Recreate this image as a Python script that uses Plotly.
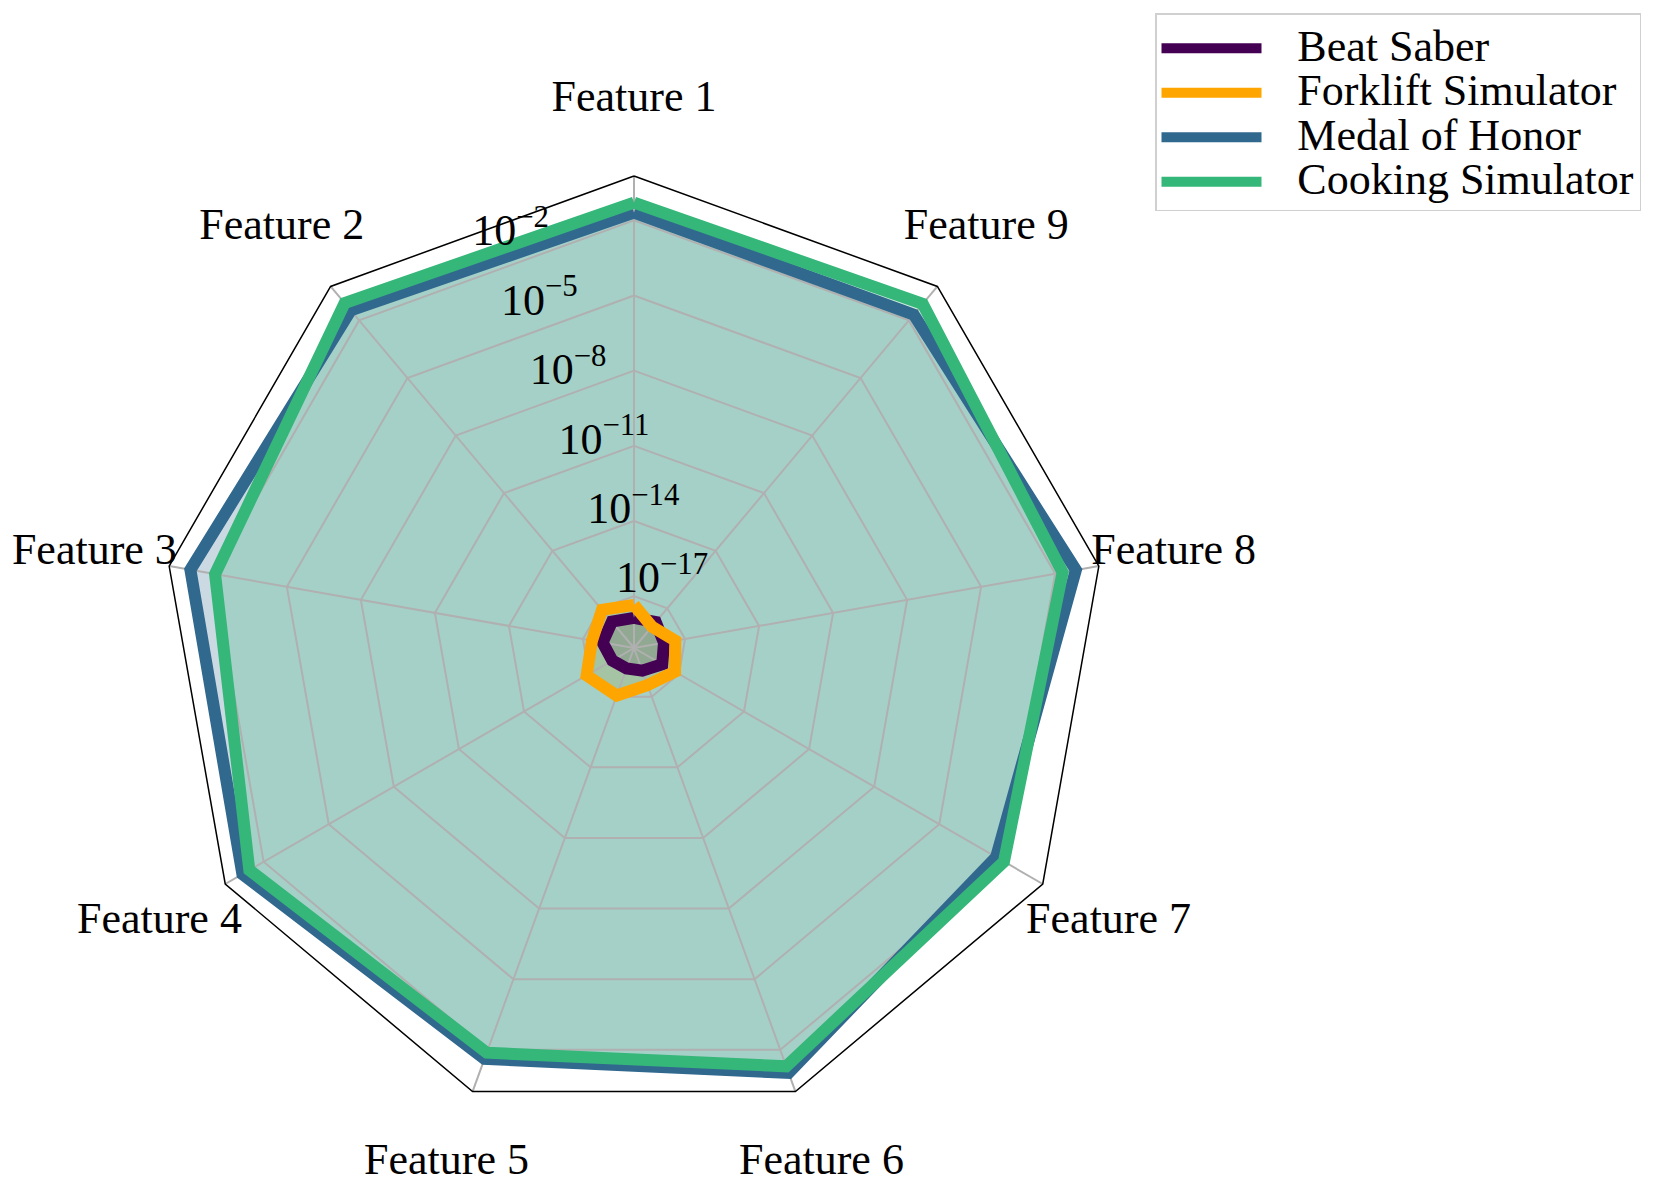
import plotly.graph_objects as go

features = [f"Feature {i}" for i in range(1, 10)]
series_names = ["Beat Saber", "Forklift Simulator", "Medal of Honor", "Cooking Simulator"]
beat_saber = [1.35e-18, 2.0e-18, 1.6e-18, 8.5e-19, 6.3e-19, 7.8e-19, 1.7e-18, 1.4e-18, 1.9e-18]
forklift = [4.5e-18, 8.3e-18, 4.3e-18, 1.3e-17, 8.9e-18, 3.2e-18, 6.6e-18, 4.0e-18, 1.1e-18]
medal_of_honor = [0.0204, 0.0331, 0.0813, 0.0955, 0.024, 0.0955, 0.00417, 0.0692, 0.020]
cooking = [0.0513, 0.0794, 0.00813, 0.0457, 0.0132, 0.0501, 0.00955, 0.020, 0.0724]
series_values = [beat_saber, forklift, medal_of_honor, cooking]
colors = ["#440154", "#FFA500", "#31688E", "#35B779"]
fill_colors = ["rgba(68,1,84,0.25)", "rgba(255,165,0,0.25)", "rgba(49,104,142,0.25)", "rgba(53,183,121,0.25)"]
tick_vals = [1e-17, 1e-14, 1e-11, 1e-8, 1e-5, 1e-2]
tick_text = ["10<sup>\u221217</sup>", "10<sup>\u221214</sup>", "10<sup>\u221211</sup>",
             "10<sup>\u22128</sup>", "10<sup>\u22125</sup>", "10<sup>\u22122</sup>"]

FONT = "Liberation Serif"
FS = 44
PAGE_OFFSET = 8  # default body margin of the html page
W, H = 1661 - PAGE_OFFSET, 1196 - PAGE_OFFSET
cx, cy, R = 634 - PAGE_OFFSET, 648 - PAGE_OFFSET, 472
R_RANGE = [-19.07, -0.23]
LABEL_DX, LABEL_DY = -19, 21  # offset of radial tick labels (px, right / up)

fig = go.Figure()
theta_closed = features + [features[0]]

# fills (bottom subplot, below grid)
for name, vals, fc in zip(series_names, series_values, fill_colors):
    fig.add_trace(go.Scatterpolar(
        r=vals + [vals[0]], theta=theta_closed, mode="lines", fill="toself",
        fillcolor=fc, line=dict(width=0, color=fc), showlegend=False,
        hoverinfo="skip", subplot="polar"))

# lines (subplot above grid)
for name, vals, c in zip(series_names, series_values, colors):
    fig.add_trace(go.Scatterpolar(
        r=vals + [vals[0]], theta=theta_closed, mode="lines",
        name='<span style="font-size:%dpx">\u00a0\u00a0\u2009%s</span>' % (FS, name),
        line=dict(width=12, color=c), subplot="polar2"))

# angular labels on an invisible companion polar subplot
fig.add_trace(go.Scatterpolar(
    r=[1] * len(features), theta=features, mode="text", text=features,
    textposition="middle center", textfont=dict(family=FONT, size=FS, color="black"),
    showlegend=False, hoverinfo="skip", cliponaxis=False, subplot="polar3"))

# radial tick labels (circular subplot so the axis angle is not snapped to a vertex)
fig.add_trace(go.Scatterpolar(r=[], theta=[], mode="lines", showlegend=False,
                              hoverinfo="skip", subplot="polar4"))

xc, yc = cx / W, 1 - cy / H
dom = dict(x=[xc - R / W, xc + R / W], y=[yc - R / H, yc + R / H])
dom4 = dict(x=[xc + (LABEL_DX - R) / W, xc + (LABEL_DX + R) / W],
            y=[yc + (LABEL_DY - R) / H, yc + (LABEL_DY + R) / H])
ang_common = dict(type="category", categoryarray=features, rotation=90, direction="counterclockwise")

fig.update_layout(
    width=W, height=H, autosize=False,
    margin=dict(l=0, r=0, t=0, b=0),
    paper_bgcolor="white", plot_bgcolor="white",
    font=dict(family=FONT, size=FS, color="black"),
    polar=dict(
        domain=dom, bgcolor="white", gridshape="linear",
        angularaxis=dict(**ang_common, visible=False),
        radialaxis=dict(type="log", range=R_RANGE, visible=False),
    ),
    polar2=dict(
        domain=dom, bgcolor="rgba(0,0,0,0)", gridshape="linear",
        angularaxis=dict(**ang_common,
                         showline=True, linecolor="black", linewidth=1.5,
                         showgrid=True, gridcolor="#b0b0b0", gridwidth=1.5,
                         showticklabels=False, ticks=""),
        radialaxis=dict(
            type="log", range=R_RANGE, tickvals=tick_vals,
            showline=False, ticks="", showticklabels=False,
            showgrid=True, gridcolor="#b0b0b0", gridwidth=1.5),
    ),
    polar3=dict(
        domain=dict(x=[0, 2 * xc], y=[0, 2 * yc]),
        bgcolor="rgba(0,0,0,0)",
        angularaxis=dict(**ang_common, visible=False),
        radialaxis=dict(range=[0, 1], visible=False),
    ),
    polar4=dict(
        domain=dom4, bgcolor="rgba(0,0,0,0)", gridshape="circular",
        angularaxis=dict(**ang_common, visible=False),
        radialaxis=dict(
            type="log", range=R_RANGE, tickvals=tick_vals, ticktext=tick_text,
            angle=112.5, side="clockwise", tickangle=112.5,
            showline=False, ticks="", showgrid=False,
            tickfont=dict(family=FONT, size=FS, color="black")),
    ),
    legend=dict(
        x=(1155 - PAGE_OFFSET) / W, y=1 - (13 - PAGE_OFFSET) / H, xanchor="left", yanchor="top",
        bordercolor="#d0d0d0", borderwidth=1.5, bgcolor="white",
        font=dict(family=FONT, size=31.9), itemwidth=100, tracegroupgap=0,
        title=dict(text="\u00a0", font=dict(size=5))),
)

fig.write_html("out.html")
